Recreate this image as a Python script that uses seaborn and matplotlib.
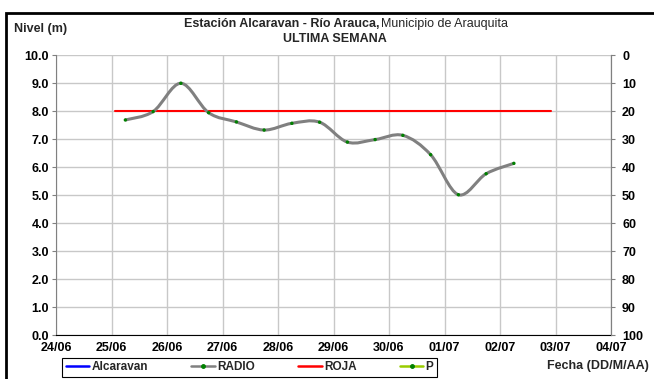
import numpy as np
import pandas as pd
import matplotlib
matplotlib.use("Agg")
import matplotlib.pyplot as plt
import matplotlib.dates as mdates
from matplotlib.path import Path
from matplotlib.patches import PathPatch, Rectangle
from matplotlib.lines import Line2D
import seaborn as sns

# === Data ===
radio_times = pd.date_range("2013-06-25 06:00", "2013-07-02 06:00", freq="12h")
radio_levels = [7.68, 7.98, 8.99, 7.94, 7.61, 7.32, 7.56, 7.60,
                6.89, 6.98, 7.13, 6.44, 5.01, 5.76, 6.13]
roja_times = pd.to_datetime(["2013-06-25 01:30", "2013-07-02 22:00"])
roja_levels = [8.0, 8.0]
x_ticks = pd.date_range("2013-06-24", "2013-07-04", freq="D")
y_ticks = np.arange(0, 10.5, 1.0)
y2_ticks = np.arange(0, 101, 10)

sns.set_style("white")
plt.rcParams["font.family"] = ["Liberation Sans", "DejaVu Sans"]

W, H = 654, 379
fs = 9
fig = plt.figure(figsize=(W / 100, H / 100), dpi=100)
ax = fig.add_axes([56 / W, 1 - 335 / H, (611 - 56) / W, (335 - 55) / H])

grid_c = "#c8c8c8"
ax.set_xlim(x_ticks[0], x_ticks[-1])
ax.set_ylim(0, 10)
ax.set_xticks(x_ticks)
ax.set_yticks(y_ticks)
ax.xaxis.set_major_formatter(mdates.DateFormatter("%d/%m"))
ax.set_yticklabels([f"{v:.1f}" for v in y_ticks])
ax.grid(True, color=grid_c, linewidth=1)
ax.set_axisbelow(True)
ax.spines["top"].set_visible(False)
ax.spines["right"].set_color("#808080")
ax.spines["left"].set_color("#808080")
ax.spines["bottom"].set_color("black")
ax.tick_params(axis="both", labelsize=fs, length=3, width=0.8, colors="#808080",
               labelcolor="black", pad=2)
ax.tick_params(axis="x", direction="inout", length=4, colors="black",
               labelcolor="black", pad=3)
for lab in ax.get_xticklabels() + ax.get_yticklabels():
    lab.set_fontweight("bold")

# red threshold line
sns.lineplot(x=roja_times, y=roja_levels, ax=ax, color="#ff0000", linewidth=1.5)

# smoothed gray curve (Excel-style bezier through the data points)
xs = mdates.date2num(radio_times)
pts = np.column_stack([xs, radio_levels])
verts = [pts[0]]
codes = [Path.MOVETO]
n = len(pts)
for i in range(n - 1):
    p0 = pts[i - 1] if i > 0 else pts[i]
    p3 = pts[i + 2] if i + 2 < n else pts[i + 1]
    c1 = pts[i] + (pts[i + 1] - p0) / 6
    c2 = pts[i + 1] - (p3 - pts[i]) / 6
    verts += [c1, c2, pts[i + 1]]
    codes += [Path.CURVE4] * 3
ax.add_patch(PathPatch(Path(verts, codes), facecolor="none", edgecolor="#808080",
                       linewidth=2.2, zorder=3))
sns.scatterplot(x=radio_times, y=radio_levels, ax=ax, color="#008000", s=6,
                edgecolor="none", zorder=4)
ax.set_xlabel("")
ax.set_ylabel("")

# secondary axis
ax2 = ax.twinx()
ax2.set_ylim(100, 0)
ax2.set_yticks(y2_ticks)
ax2.spines["top"].set_visible(False)
ax2.spines["left"].set_visible(False)
ax2.spines["bottom"].set_visible(False)
ax2.spines["right"].set_color("#808080")
ax2.tick_params(axis="y", labelsize=fs, length=3, width=0.8, colors="#808080",
                labelcolor="black", pad=5)
for lab in ax2.get_yticklabels():
    lab.set_fontweight("bold")
ax2.grid(False)

# texts
fig.text(14 / W, 1 - 29 / H, "Nivel (m)", fontsize=fs, fontweight="bold", va="center")
fig.text(379 / W, 1 - 24 / H, "Estación Alcaravan - Río Arauca,", fontsize=fs,
         fontweight="bold", ha="right", va="center")
fig.text(381 / W, 1 - 24 / H, "Municipio de Arauquita", fontsize=fs,
         ha="left", va="center")
fig.text(335 / W, 1 - 39 / H, "ULTIMA SEMANA", fontsize=fs, fontweight="bold",
         ha="center", va="center")
fig.text(649 / W, 1 - 366 / H, "Fecha (DD/M/AA)", fontsize=fs, fontweight="bold",
         ha="right", va="center")

# legend
handles = [
    Line2D([], [], color="#0000ff", linewidth=1.8),
    Line2D([], [], color="#808080", linewidth=1.8, marker="o", markersize=2.5,
           markerfacecolor="#008000", markeredgecolor="#008000"),
    Line2D([], [], color="#ff0000", linewidth=1.8),
    Line2D([], [], color="#99cc00", linewidth=1.8, marker="o", markersize=2.5,
           markerfacecolor="#008000", markeredgecolor="#008000"),
]
leg = fig.legend(handles, ["Alcaravan", "RADIO", "ROJA", "P"], ncol=4,
                 loc="lower left", mode="expand",
                 bbox_to_anchor=(62 / W, 1 - 377 / H, (437 - 62) / W, 21 / H),
                 prop={"size": 8.5, "weight": "bold"}, handlelength=2.0,
                 handletextpad=0.2, borderpad=0.3, fancybox=False, framealpha=1,
                 edgecolor="black", borderaxespad=0)
leg.get_frame().set_linewidth(0.8)

# chart border
fig.add_artist(Rectangle((6 / W, -0.05), 1.0, 1.05 - 13 / H, transform=fig.transFigure,
                         fill=False, edgecolor="black", linewidth=2))

fig.savefig("out.png", dpi=100)
